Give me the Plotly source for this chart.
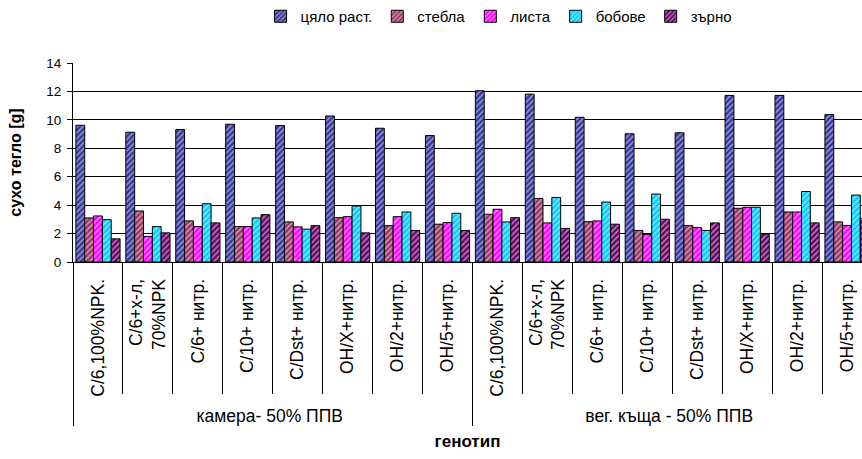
import plotly.graph_objects as go

groups = ["камера- 50% ППВ"] * 8 + ["вег. къща - 50% ППВ"] * 8
genotypes = ["С/6,100%NPK.", "С/6+х-л,<br>70%NPK", "С/6+ нитр.", "С/10+ нитр.",
             "С/Dst+ нитр.", "ОН/Х+нитр.", "ОН/2+нитр.", "ОН/5+нитр."] * 2

series_names = ["цяло раст.", "стебла", "листа", "бобове", "зърно"]
whole = [9.62, 9.13, 9.32, 9.69, 9.60, 10.27, 9.41, 8.90, 12.05, 11.81, 10.18, 9.02, 9.09, 11.72, 11.72, 10.37]
stems = [3.10, 3.59, 2.89, 2.49, 2.82, 3.12, 2.56, 2.66, 3.36, 4.47, 2.84, 2.22, 2.56, 3.78, 3.52, 2.82]
leaves = [3.24, 1.80, 2.49, 2.49, 2.47, 3.19, 3.19, 2.77, 3.71, 2.75, 2.89, 1.94, 2.42, 3.85, 3.52, 2.56]
pods = [2.98, 2.49, 4.10, 3.10, 2.31, 3.94, 3.52, 3.43, 2.82, 4.54, 4.22, 4.78, 2.22, 3.85, 4.96, 4.71]
grain = [1.63, 2.05, 2.75, 3.33, 2.56, 2.05, 2.22, 2.22, 3.12, 2.36, 2.66, 3.01, 2.75, 1.96, 2.75, 3.08]
series_values = [whole, stems, leaves, pods, grain]
colors = ["#333399", "#993366", "#ff00ff", "#00ccff", "#660066"]

font = "Liberation Sans, Arial, sans-serif"
fig = go.Figure()
for name, vals, col in zip(series_names, series_values, colors):
    fig.add_trace(go.Bar(
        x=[groups, genotypes], y=vals, name=name,
        marker=dict(color=col, line=dict(color="black", width=1),
                    pattern=dict(shape="/", fillmode="overlay", bgcolor=col,
                                 fgcolor="white", size=4, solidity=0.4)),
    ))

fig.update_layout(
    width=862, height=459,
    margin=dict(l=73, r=0, t=62, b=197),
    paper_bgcolor="white", plot_bgcolor="white",
    barmode="group", bargap=0.115, bargroupgap=0,
    font=dict(family=font, color="black", size=13),
    legend=dict(orientation="h", x=0.54, xanchor="center", y=1.235, yanchor="middle",
                font=dict(size=15), itemwidth=30, tracegroupgap=0),
    showlegend=True,
)
fig.update_xaxes(
    type="multicategory", range=[-0.5, 15.3],
    showline=True, linecolor="black", linewidth=1,
    ticks="outside", ticklen=131, tickcolor="black", tickwidth=1,
    tickangle=-90, tickfont=dict(size=17.5), ticklabelstandoff=9,
    showdividers=True, dividercolor="black", dividerwidth=1,
    title=dict(text="<b>генотип</b>", font=dict(size=17), standoff=10),
)
fig.update_yaxes(
    range=[0, 14], dtick=2, showline=True, linecolor="black", linewidth=1,
    ticks="outside", ticklen=5, tickcolor="black",
    showgrid=True, gridcolor="black", gridwidth=1,
    tickfont=dict(size=13.5), ticklabelstandoff=3,
    title=dict(text="<b>сухо тегло [g]</b>", font=dict(size=16), standoff=20),
)
fig.write_html("out.html")
